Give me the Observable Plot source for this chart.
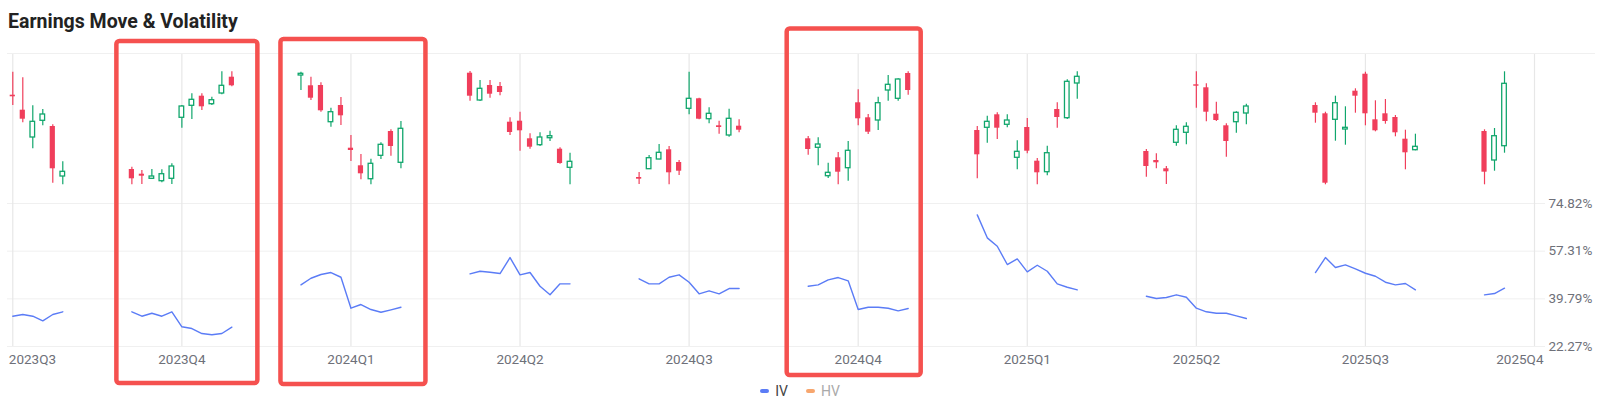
<!DOCTYPE html>
<html>
<head>
<meta charset="utf-8">
<script src="https://cdn.jsdelivr.net/npm/d3@7"></script>
<script src="https://cdn.jsdelivr.net/npm/@observablehq/plot@0.6"></script>
<style>
  html, body { margin: 0; padding: 0; background: #fff; }
  body { font-family: Roboto, "Noto Sans", sans-serif; }
  #wrap { position: relative; width: 1600px; height: 415px; overflow: hidden; }
  #title { position: absolute; left: 8px; top: 12px; font-size: 19.5px; line-height: 19.5px; font-weight: 700; color: #222; white-space: nowrap; }
  .layer { position: absolute; left: 0; }
  .layer svg { display: block; }
  #legend { position: absolute; left: 0; top: 383px; width: 1600px; height: 16px; display: flex; justify-content: center; align-items: center; font-size: 14px; }
  .item { display: flex; align-items: center; margin: 0 9px; }
  .sw { width: 9px; height: 4px; border-radius: 2px; margin-right: 6px; }
</style>
</head>
<body>
<div id="wrap">
  <div id="title">Earnings Move &amp; Volatility</div>
  <div id="candles" class="layer" style="top:40px"></div>
  <div id="vol" class="layer" style="top:193px"></div>
  <div id="legend"></div>
  <div id="boxes" class="layer" style="top:0px"></div>
</div>
<script>
// ---------------- data ----------------
const quarters = ["2023Q3","2023Q4","2024Q1","2024Q2","2024Q3","2024Q4","2025Q1","2025Q2","2025Q3","2025Q4"];
const ivTicks = [22.27, 39.79, 57.31, 74.82];
const legendItems = ["IV", "HV"];
const highlighted = ["2023Q4", "2024Q1", "2024Q4"];

// each earnings window: quarter it sits on, and session offset of its first candle
const eventQuarter = [0, 1, 2, 3, 4, 5, 6, 7, 8, 9];
const firstOffset  = [0, -5, -5, -5, -5, -5, -5, -5, -5, -5];

const open = [
  [108.3, 93.3, 66.0, 82.7, 77.0, 27.0],
  [34.0, 29.3, 24.7, 22.3, 24.7, 85.7, 97.7, 107.3, 99.3, 110.0, 126.3],
  [128.0, 117.7, 118.0, 81.3, 98.0, 55.3, 37.7, 24.3, 47.7, 72.0, 40.7],
  [130.3, 103.0, 118.0, 117.0, 81.3, 82.3, 64.7, 58.3, 65.3, 54.3, 35.7],
  [26.0, 34.3, 44.0, 53.7, 41.0, 94.7, 104.7, 84.3, 77.7, 68.0, 77.3],
  [64.7, 55.7, 27.3, 45.7, 35.3, 100.7, 85.7, 83.0, 113.0, 104.7, 130.0],
  [73.0, 75.7, 88.7, 78.7, 45.7, 76.0, 42.3, 31.3, 94.0, 85.3, 120.0],
  [52.0, 43.0, 34.7, 60.7, 70.7, 118.7, 115.7, 89.3, 77.7, 81.3, 90.0],
  [98.0, 89.7, 83.7, 74.0, 112.3, 129.3, 83.7, 89.7, 86.0, 64.3, 53.3],
  [72.0, 43.0, 57.3]
];
const high = [
  [131.3, 125.7, 97.7, 94.0, 78.7, 41.7],
  [36.3, 33.0, 34.0, 33.7, 39.7, 98.0, 109.7, 109.7, 106.3, 131.7, 131.7],
  [131.3, 126.3, 120.7, 95.3, 106.0, 68.0, 49.0, 44.3, 60.7, 73.7, 82.0],
  [132.0, 123.0, 123.0, 121.0, 85.7, 91.3, 69.7, 70.7, 72.3, 55.7, 50.3],
  [31.0, 48.0, 59.0, 57.0, 43.0, 131.3, 105.3, 95.7, 82.3, 94.3, 83.7],
  [67.0, 65.7, 40.3, 51.0, 62.0, 113.7, 89.0, 106.3, 128.0, 124.7, 131.7],
  [77.0, 87.3, 90.7, 88.7, 62.7, 85.0, 45.0, 57.3, 100.7, 123.7, 131.7],
  [54.0, 49.7, 37.0, 77.7, 80.7, 131.7, 119.7, 101.3, 79.7, 91.7, 99.3],
  [100.7, 91.3, 107.3, 96.7, 114.7, 131.3, 102.7, 104.0, 88.0, 73.3, 69.3],
  [73.7, 75.0, 131.7]
];
const low = [
  [98.0, 80.7, 54.7, 77.7, 20.3, 18.7],
  [18.7, 19.0, 24.3, 20.7, 19.0, 75.3, 84.0, 93.0, 98.0, 108.7, 116.7],
  [113.0, 103.0, 91.3, 76.3, 78.0, 42.0, 23.7, 18.7, 44.0, 47.3, 34.7],
  [102.3, 102.0, 105.3, 107.7, 68.0, 52.3, 54.3, 57.0, 62.0, 39.3, 18.7],
  [19.0, 34.0, 43.7, 18.7, 28.0, 88.7, 83.7, 79.7, 69.3, 66.3, 70.7],
  [48.3, 37.7, 25.0, 18.7, 22.3, 77.7, 69.0, 73.0, 102.3, 102.3, 108.3],
  [24.7, 60.3, 64.0, 75.7, 33.7, 49.7, 18.7, 27.7, 75.3, 84.0, 104.3],
  [26.3, 34.7, 19.0, 57.3, 58.7, 95.3, 81.7, 82.0, 46.3, 70.3, 78.7],
  [80.3, 18.7, 62.3, 58.3, 90.3, 77.7, 71.7, 79.3, 66.7, 33.7, 52.7],
  [18.7, 32.3, 50.3]
];
const close = [
  [106.7, 84.3, 81.7, 89.0, 34.7, 31.7],
  [24.7, 27.3, 27.0, 29.3, 37.0, 97.0, 103.7, 96.7, 103.3, 117.7, 117.7],
  [129.7, 105.3, 92.7, 91.3, 87.7, 53.0, 29.7, 39.7, 58.7, 57.0, 74.7],
  [107.3, 114.7, 109.3, 111.0, 71.0, 72.7, 56.3, 66.0, 67.3, 40.0, 41.7],
  [24.3, 45.3, 50.7, 30.7, 32.3, 104.7, 84.3, 89.7, 76.0, 84.7, 73.3],
  [54.0, 59.0, 30.7, 31.3, 52.7, 84.7, 71.3, 100.3, 118.7, 124.0, 113.0],
  [48.7, 81.7, 75.3, 83.0, 51.7, 52.3, 30.7, 50.3, 86.0, 121.7, 126.7],
  [37.0, 40.7, 31.7, 73.7, 76.7, 117.3, 91.3, 83.0, 62.0, 90.7, 97.0],
  [90.3, 20.3, 100.3, 75.7, 107.3, 89.7, 72.7, 82.0, 70.7, 50.7, 56.7],
  [31.3, 67.3, 119.7]
];
const iv = [
  [33.40, 34.02, 33.40, 31.71, 34.02, 35.02],
  [35.02, 33.40, 34.50, 33.40, 35.02, 29.51, 28.88, 27.04, 26.57, 27.04, 29.36],
  [44.93, 47.36, 48.72, 49.45, 47.72, 36.34, 37.70, 35.86, 34.87, 35.75, 36.70],
  [48.97, 49.93, 49.56, 49.08, 54.96, 48.61, 49.45, 44.42, 41.26, 45.30, 45.30],
  [47.14, 45.30, 45.30, 47.72, 48.61, 45.89, 41.63, 42.73, 41.63, 43.57, 43.57],
  [44.42, 44.93, 46.77, 47.61, 46.40, 35.86, 36.70, 36.70, 36.34, 35.38, 36.23],
  [70.64, 62.20, 59.11, 52.39, 54.48, 49.71, 52.13, 49.93, 45.30, 44.05, 43.10],
  [40.75, 39.90, 40.27, 41.26, 40.38, 36.34, 35.02, 34.50, 34.50, 33.55, 32.55],
  [49.45, 54.96, 51.29, 52.28, 50.81, 49.19, 48.09, 45.89, 44.93, 45.41, 43.10],
  [41.26, 41.74, 43.68]
];

// ---------------- layout / style ----------------
const W = 1600, ML = 7, MR = 55;
const X_DOMAIN = [-0.0313, 9.065];          // in quarter units
const STEP = 0.05914;                        // spacing between sessions, in quarter units
const PXQ = (W - ML - MR) / (X_DOMAIN[1] - X_DOMAIN[0]);
const HW_RED = 2.6 / PXQ, HW_GREEN = 2.3 / PXQ;
const RED = "#f03e5b", GREEN = "#10a66c", BLUE = "#5b7cf6";
const GRID_V = "#e7e7e7", GRID_H = "#f0f0f0", LABEL = "#6e7079";
const FONT = "Roboto, 'Noto Sans', sans-serif";

const rows = [];
eventQuarter.forEach((q, g) => {
  open[g].forEach((o, i) => {
    rows.push({g, x: q + (firstOffset[g] + i) * STEP, o, h: high[g][i], l: low[g][i], c: close[g][i], iv: iv[g][i]});
  });
});
const ups = rows.filter(d => d.c >= d.o);
const downs = rows.filter(d => d.c < d.o);
const qIdx = d3.range(quarters.length);

const baseStyle = {background: "transparent", overflow: "visible", fontFamily: FONT};

// candles panel
const candlePlot = Plot.plot({
  width: W, height: 170, marginTop: 13, marginBottom: 7, marginLeft: ML, marginRight: MR,
  style: baseStyle,
  x: {domain: X_DOMAIN, axis: null},
  y: {domain: [0, 150], axis: null},
  marks: [
    Plot.ruleX(qIdx, {x: d => d, stroke: GRID_V, strokeWidth: 1.2}),
    Plot.ruleY([150], {y: d => d, stroke: GRID_H, insetRight: -50}),
    Plot.ruleX(downs, {x: "x", y1: "l", y2: "h", stroke: RED, strokeWidth: 1.2}),
    Plot.ruleX(ups, {x: "x", y1: "l", y2: "h", stroke: GREEN, strokeWidth: 1.2}),
    Plot.rect(downs, {x1: d => d.x - HW_RED, x2: d => d.x + HW_RED, y1: "o", y2: "c", fill: RED}),
    Plot.rect(ups, {x1: d => d.x - HW_GREEN, x2: d => d.x + HW_GREEN, y1: "o", y2: "c", fill: "white", stroke: GREEN, strokeWidth: 1.3})
  ]
});
document.getElementById("candles").append(candlePlot);

// volatility panel + x axis
const volPlot = Plot.plot({
  width: W, height: 222, marginTop: 10, marginBottom: 69, marginLeft: ML, marginRight: MR,
  style: baseStyle,
  x: {domain: X_DOMAIN, axis: null},
  y: {domain: [ivTicks[0], ivTicks[ivTicks.length - 1]], axis: null},
  marks: [
    Plot.ruleY(ivTicks, {y: d => d, stroke: GRID_H}),
    Plot.ruleX(qIdx, {x: d => d, stroke: GRID_V, strokeWidth: 1.2}),
    Plot.line(rows, {x: "x", y: "iv", z: "g", stroke: BLUE, strokeWidth: 1.4}),
    Plot.text(ivTicks, {y: d => d, text: d => d.toFixed(2) + "%", frameAnchor: "right", textAnchor: "start", dx: 3, fill: LABEL, fontSize: 13.5}),
    Plot.text(qIdx.slice(0, 1), {x: d => d, text: d => quarters[d], frameAnchor: "bottom", dy: 17, textAnchor: "start", dx: -4, fill: LABEL, fontSize: 13.5}),
    Plot.text(qIdx.slice(1, -1), {x: d => d, text: d => quarters[d], frameAnchor: "bottom", dy: 17, textAnchor: "middle", fill: LABEL, fontSize: 13.5}),
    Plot.text(qIdx.slice(-1), {x: d => d, text: d => quarters[d], frameAnchor: "bottom", dy: 17, textAnchor: "end", dx: 9, fill: LABEL, fontSize: 13.5})
  ]
});
document.getElementById("vol").append(volPlot);

// highlight boxes around selected quarters
const hq = q => quarters.indexOf(q);
const boxStyle = {fill: "none", stroke: "#f5514f", strokeWidth: 4.5, rx: 3};
const boxPlot = Plot.plot({
  width: W, height: 415, marginTop: 0, marginBottom: 0, marginLeft: ML, marginRight: MR,
  style: baseStyle,
  x: {domain: X_DOMAIN, axis: null},
  marks: [
    Plot.rect([highlighted[0]], {x1: d => hq(d) - 5 * STEP, x2: d => hq(d) + 5 * STEP, insetLeft: -15, insetRight: -26, insetTop: 41, insetBottom: 32, ...boxStyle}),
    Plot.rect([highlighted[1]], {x1: d => hq(d) - 5 * STEP, x2: d => hq(d) + 5 * STEP, insetLeft: -20, insetRight: -25, insetTop: 39, insetBottom: 31, ...boxStyle}),
    Plot.rect([highlighted[2]], {x1: d => hq(d) - 5 * STEP, x2: d => hq(d) + 5 * STEP, insetLeft: -21, insetRight: -13, insetTop: 28.5, insetBottom: 40, ...boxStyle})
  ]
});
document.getElementById("boxes").append(boxPlot);

// legend
const legendColors = {IV: BLUE, HV: "#f7a66e"};
const legendText = {IV: "#444", HV: "#aaa"};
const lg = document.getElementById("legend");
legendItems.forEach(k => {
  const it = document.createElement("div");
  it.className = "item";
  const sw = document.createElement("div");
  sw.className = "sw";
  sw.style.background = legendColors[k];
  const t = document.createElement("span");
  t.textContent = k;
  t.style.color = legendText[k];
  it.append(sw, t);
  lg.append(it);
});
</script>
</body>
</html>
